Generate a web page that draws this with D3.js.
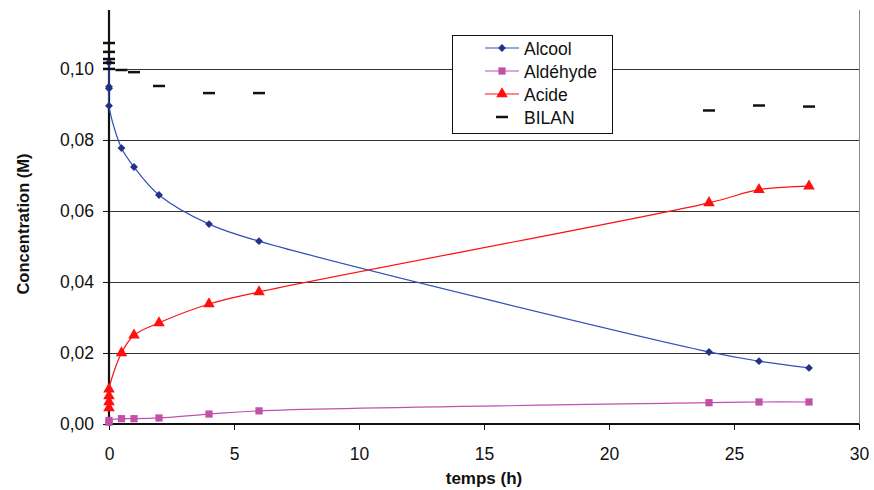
<!DOCTYPE html>
<html><head><meta charset="utf-8">
<script src="https://cdn.jsdelivr.net/npm/d3@7"></script>
<style>
html,body{margin:0;padding:0;background:#fff;}
svg{display:block;font-family:"Liberation Sans",Arial,sans-serif;}
</style></head>
<body><svg id="c" width="874" height="490"></svg>
<script>
// Data
const alcoolT = [0, 0, 0, 0, 0.5, 1, 2, 4, 6, 24, 26, 28];
const alcoolV = [0.1018, 0.0950, 0.0945, 0.0896, 0.0777, 0.0724, 0.0645, 0.0563, 0.0515, 0.0203, 0.0177, 0.0158];
const aldT = [0, 0, 0.5, 1, 2, 4, 6, 24, 26, 28];
const aldV = [0.0005, 0.0010, 0.0015, 0.0015, 0.0017, 0.0028, 0.0037, 0.0060, 0.0062, 0.0062];
const acideT = [0, 0, 0, 0, 0.5, 1, 2, 4, 6, 24, 26, 28];
const acideV = [0.0045, 0.0062, 0.0079, 0.0098, 0.0200, 0.0250, 0.0285, 0.0338, 0.0372, 0.0623, 0.0660, 0.0670];
const bilanT = [0, 0, 0, 0, 0, 0.5, 1, 2, 4, 6, 24, 26, 28];
const bilanV = [0.1073, 0.1048, 0.1028, 0.1017, 0.1000, 0.0997, 0.0991, 0.0952, 0.0932, 0.0932, 0.0883, 0.0897, 0.0894];
const xTicks = [0, 5, 10, 15, 20, 25, 30];
const yTicks = [0, 0.02, 0.04, 0.06, 0.08, 0.10];
const seriesNames = ["Alcool", "Aldéhyde", "Acide", "BILAN"];

const svg = d3.select("#c");
const x = d3.scaleLinear().domain([0, 30]).range([109, 859]);
const y = d3.scaleLinear().domain([0, 0.1166]).range([424, 10]);
const fmt = d => d3.format(".2f")(d).replace(".", ",");

// gridlines
svg.append("g").selectAll("line").data(yTicks.filter(d => d > 0)).join("line")
  .attr("x1", x(0)).attr("x2", x(30)).attr("y1", d => Math.round(y(d)) + 0.5).attr("y2", d => Math.round(y(d)) + 0.5)
  .attr("stroke", "#333").attr("stroke-width", 1);
// right border
svg.append("line").attr("x1", x(30) + 0.5).attr("x2", x(30) + 0.5).attr("y1", y.range()[1]).attr("y2", y(0))
  .attr("stroke", "#888").attr("stroke-width", 1);

// axes
const xAxis = svg.append("g").attr("transform", `translate(0,${y(0)})`)
  .call(d3.axisBottom(x).tickValues(xTicks).tickSize(6).tickPadding(18).tickFormat(d => d));
const yAxis = svg.append("g").attr("transform", `translate(${x(0)},0)`)
  .call(d3.axisLeft(y).tickValues(yTicks).tickSize(6).tickPadding(9).tickFormat(fmt));
[xAxis, yAxis].forEach(a => {
  a.select(".domain").attr("stroke", "#111").attr("stroke-width", 2.2);
  a.selectAll(".tick line").attr("stroke", "#111");
  a.selectAll("text").attr("font-size", 17.5).attr("fill", "#111").attr("font-family", "Liberation Sans, Arial, sans-serif");
});
yAxis.select(".domain").attr("d", `M0,${y.range()[1]}V${y(0)}`);
xAxis.select(".domain").attr("d", `M${x(0)},0H${x(30)}`);

// axis titles
svg.append("text").attr("x", 484).attr("y", 484).attr("text-anchor", "middle")
  .attr("font-size", 17).attr("font-weight", "bold").attr("fill", "#111").text("temps (h)");
svg.append("text").attr("transform", "translate(29,224) rotate(-90)").attr("text-anchor", "middle")
  .attr("font-size", 16.5).attr("font-weight", "bold").attr("fill", "#111").text("Concentration (M)");

const line = d3.line().x(d => x(d[0])).y(d => y(d[1])).curve(d3.curveCatmullRom.alpha(0.5));
const zip = (a, b) => a.map((t, i) => [t, b[i]]);
const diamond = {draw(ctx, size) { const r = Math.sqrt(size) / 2 * 1.25; ctx.moveTo(0, -r); ctx.lineTo(r, 0); ctx.lineTo(0, r); ctx.lineTo(-r, 0); ctx.closePath(); }};

const cfg = [
  {t: alcoolT, v: alcoolV, line: "#3050b8", mark: "#23318a", sym: diamond, size: 40},
  {t: aldT, v: aldV, line: "#c050b0", mark: "#c050a8", sym: d3.symbolSquare, size: 52},
  {t: acideT, v: acideV, line: "#ff1010", mark: "#ff1010", sym: d3.symbolTriangle, size: 58}
];
cfg.forEach(c => {
  const pts = zip(c.t, c.v);
  svg.append("path").attr("d", line(pts)).attr("fill", "none").attr("stroke", c.line).attr("stroke-width", 1.2);
  svg.append("g").selectAll("path").data(pts).join("path")
    .attr("transform", d => `translate(${x(d[0])},${y(d[1])})`)
    .attr("d", d3.symbol().type(c.sym).size(c.size)).attr("fill", c.mark);
});
// BILAN dashes
svg.append("g").selectAll("line").data(zip(bilanT, bilanV)).join("line")
  .attr("x1", d => x(d[0]) - 6).attr("x2", d => x(d[0]) + 6)
  .attr("y1", d => y(d[1])).attr("y2", d => y(d[1]))
  .attr("stroke", "#111").attr("stroke-width", 2.5);

// legend
const lg = svg.append("g");
lg.append("rect").attr("x", 452.5).attr("y", 35.5).attr("width", 160).attr("height", 98)
  .attr("fill", "#fff").attr("stroke", "#111").attr("stroke-width", 1);
seriesNames.forEach((n, i) => {
  const yy = 48 + i * 23;
  if (i < 3) {
    lg.append("line").attr("x1", 485).attr("x2", 519).attr("y1", yy).attr("y2", yy)
      .attr("stroke", cfg[i].line).attr("stroke-width", 1.2);
    lg.append("path").attr("transform", `translate(502,${yy})`)
      .attr("d", d3.symbol().type(cfg[i].sym).size(cfg[i].size)).attr("fill", cfg[i].mark);
  } else {
    lg.append("line").attr("x1", 496).attr("x2", 508).attr("y1", yy).attr("y2", yy)
      .attr("stroke", "#111").attr("stroke-width", 2.5);
  }
  lg.append("text").attr("x", 524).attr("y", yy + 6.5).attr("font-size", 17.5).attr("fill", "#111").text(n);
});
</script></body></html>
